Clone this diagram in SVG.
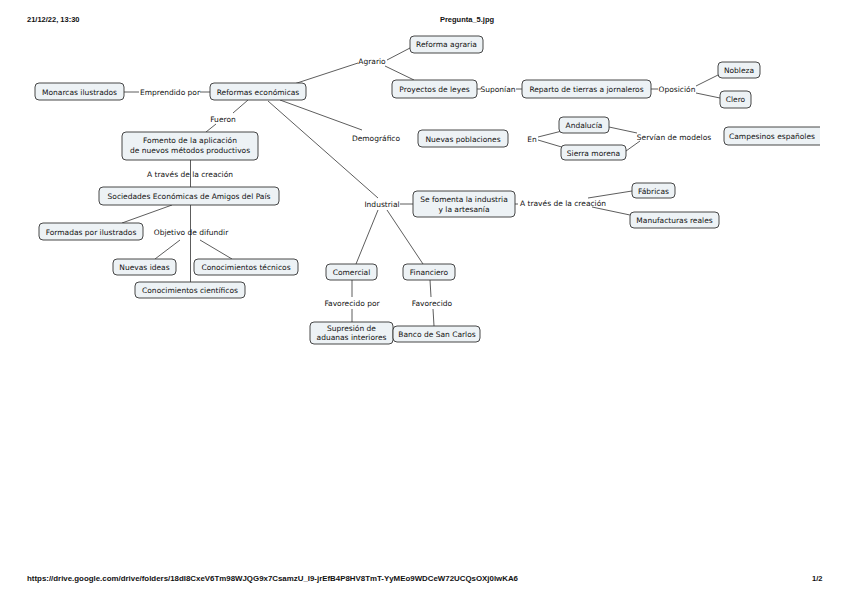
<svg xmlns="http://www.w3.org/2000/svg" width="848" height="599" viewBox="0 0 848 599">
<style>
.n rect{fill:#edf2f5;stroke:#333;stroke-width:0.9}
.n text,.l{font-family:"DejaVu Sans",sans-serif;font-size:7.5px;fill:#111;text-anchor:middle}
.c line{stroke:#333;stroke-width:0.8}
.h{font-family:"Liberation Sans",sans-serif;font-size:7.5px;fill:#111;font-weight:bold}
</style>
<defs><clipPath id="pg"><rect x="0" y="0" width="820" height="599"/></clipPath></defs>
<rect width="848" height="599" fill="#fff"/>
<text class="h" x="27" y="22">21/12/22, 13:30</text>
<text class="h" x="467" y="22" text-anchor="middle">Pregunta_5.jpg</text>
<text class="h" x="27" y="581" textLength="491" lengthAdjust="spacingAndGlyphs">https://drive.google.com/drive/folders/18dI8CxeV6Tm98WJQG9x7CsamzU_I9-jrEfB4P8HV8TmT-YyMEo9WDCeW72UCQsOXj0lwKA6</text>
<text class="h" x="812" y="581">1/2</text>

<g id="connectors" class="c">
<line x1="294" y1="84" x2="358" y2="63"/>
<line x1="387" y1="60" x2="410" y2="48"/>
<line x1="385" y1="66" x2="414" y2="80"/>
<line x1="477" y1="89" x2="481" y2="89"/>
<line x1="516" y1="89" x2="522" y2="89"/>
<line x1="651" y1="89" x2="658" y2="89"/>
<line x1="696" y1="86" x2="718" y2="75"/>
<line x1="696" y1="93" x2="720" y2="98"/>
<line x1="124" y1="92" x2="139" y2="92"/>
<line x1="200" y1="92" x2="210" y2="92"/>
<line x1="248" y1="100" x2="233" y2="113"/>
<line x1="216" y1="124" x2="206" y2="132"/>
<line x1="190.5" y1="160" x2="190.5" y2="187"/>
<line x1="172" y1="205" x2="122" y2="223"/>
<line x1="190.5" y1="205" x2="190.5" y2="282"/>
<line x1="180" y1="240" x2="155" y2="259"/>
<line x1="200" y1="240" x2="232" y2="259"/>
<line x1="280" y1="100" x2="362" y2="130"/>
<line x1="268" y1="101" x2="378" y2="198"/>
<line x1="400" y1="204" x2="413" y2="204"/>
<line x1="515" y1="204" x2="518" y2="204"/>
<line x1="588" y1="198" x2="632" y2="191"/>
<line x1="592" y1="207" x2="630" y2="215"/>
<line x1="378" y1="210" x2="356" y2="264"/>
<line x1="387" y1="210" x2="423" y2="264"/>
<line x1="352" y1="280" x2="352" y2="297"/>
<line x1="352" y1="309" x2="352" y2="322"/>
<line x1="430" y1="280" x2="431" y2="297"/>
<line x1="433" y1="309" x2="434" y2="326"/>
<line x1="538" y1="137" x2="562" y2="131"/>
<line x1="538" y1="140" x2="565" y2="148"/>
<line x1="609" y1="127" x2="637" y2="133"/>
<line x1="626" y1="151" x2="640" y2="141"/>
</g>

<text class="l" x="372" y="64">Agrario</text>
<text class="l" x="498" y="91.5">Suponían</text>
<text class="l" x="677" y="91.5">Oposición</text>
<text class="l" x="170" y="94.5">Emprendido por</text>
<text class="l" x="223" y="121.5">Fueron</text>
<text class="l" x="190" y="176.5">A través de la creación</text>
<text class="l" x="191" y="235">Objetivo de difundir</text>
<text class="l" x="376" y="140.5">Demográfico</text>
<text class="l" x="532" y="141.5">En</text>
<text class="l" x="674" y="139.5">Servían de modelos</text>
<text class="l" x="382" y="206.5">Industrial</text>
<text class="l" x="563" y="206">A través de la creación</text>
<text class="l" x="352" y="305.5">Favorecido por</text>
<text class="l" x="432" y="305.5">Favorecido</text>

<g id="n-reforma-agraria" class="n"><rect x="410" y="36" width="73" height="17" rx="4"/><text x="446.5" y="47">Reforma agraria</text></g>
<g id="n-proyectos" class="n"><rect x="392" y="80" width="85" height="18" rx="4"/><text x="434.5" y="91.5">Proyectos de leyes</text></g>
<g id="n-reparto" class="n"><rect x="522" y="80" width="129" height="18" rx="4"/><text x="586.5" y="91.5">Reparto de tierras a jornaleros</text></g>
<g id="n-nobleza" class="n"><rect x="718" y="62" width="42" height="16" rx="4"/><text x="739" y="72.5">Nobleza</text></g>
<g id="n-clero" class="n"><rect x="720" y="91" width="31" height="17" rx="4"/><text x="735.5" y="102">Clero</text></g>
<g id="n-monarcas" class="n"><rect x="35" y="83" width="89" height="17" rx="4"/><text x="79.5" y="94.5">Monarcas ilustrados</text></g>
<g id="n-reformas" class="n"><rect x="210" y="83" width="96" height="17" rx="4"/><text x="258" y="94.5">Reformas económicas</text></g>
<g id="n-fomento" class="n"><rect x="122" y="132" width="136" height="28" rx="4"/><text x="190" y="143">Fomento de la aplicación</text><text x="190" y="153">de nuevos métodos productivos</text></g>
<g id="n-nuevas-poblaciones" class="n"><rect x="418" y="130" width="90" height="17" rx="4"/><text x="463" y="141.5">Nuevas poblaciones</text></g>
<g id="n-andalucia" class="n"><rect x="559" y="117" width="50" height="16" rx="4"/><text x="584" y="128">Andalucía</text></g>
<g id="n-sierra" class="n"><rect x="561" y="145" width="65" height="15" rx="4"/><text x="593.5" y="155.5">Sierra morena</text></g>
<g id="n-campesinos" class="n" clip-path="url(#pg)"><rect x="724" y="127" width="104" height="18" rx="4"/><text x="772" y="138.5">Campesinos españoles</text></g>
<g id="n-sociedades" class="n"><rect x="99" y="187" width="180" height="18" rx="4"/><text x="189" y="198.5">Sociedades Económicas de Amigos del País</text></g>
<g id="n-formadas" class="n"><rect x="39" y="223" width="104" height="17" rx="4"/><text x="91" y="234.5">Formadas por ilustrados</text></g>
<g id="n-nuevas-ideas" class="n"><rect x="113" y="259" width="63" height="16" rx="4"/><text x="144.5" y="270">Nuevas ideas</text></g>
<g id="n-tecnicos" class="n"><rect x="194" y="259" width="104" height="16" rx="4"/><text x="246" y="270">Conocimientos técnicos</text></g>
<g id="n-cientificos" class="n"><rect x="135" y="282" width="110" height="16" rx="4"/><text x="190" y="293">Conocimientos científicos</text></g>
<g id="n-se-fomenta" class="n"><rect x="413" y="191" width="102" height="26" rx="4"/><text x="464" y="201.5">Se fomenta la industria</text><text x="464" y="211.5">y la artesanía</text></g>
<g id="n-fabricas" class="n"><rect x="632" y="183" width="43" height="15" rx="4"/><text x="653.5" y="193.5">Fábricas</text></g>
<g id="n-manufacturas" class="n"><rect x="630" y="212" width="89" height="16" rx="4"/><text x="674.5" y="223">Manufacturas reales</text></g>
<g id="n-comercial" class="n"><rect x="326" y="264" width="51" height="16" rx="4"/><text x="351.5" y="275">Comercial</text></g>
<g id="n-financiero" class="n"><rect x="403" y="264" width="52" height="16" rx="4"/><text x="429" y="275">Financiero</text></g>
<g id="n-supresion" class="n"><rect x="310" y="322" width="83" height="22" rx="4"/><text x="351.5" y="331">Supresión de</text><text x="351.5" y="340">aduanas interiores</text></g>
<g id="n-banco" class="n"><rect x="393" y="326" width="87" height="16" rx="4"/><text x="437" y="337">Banco de San Carlos</text></g>
</svg>
